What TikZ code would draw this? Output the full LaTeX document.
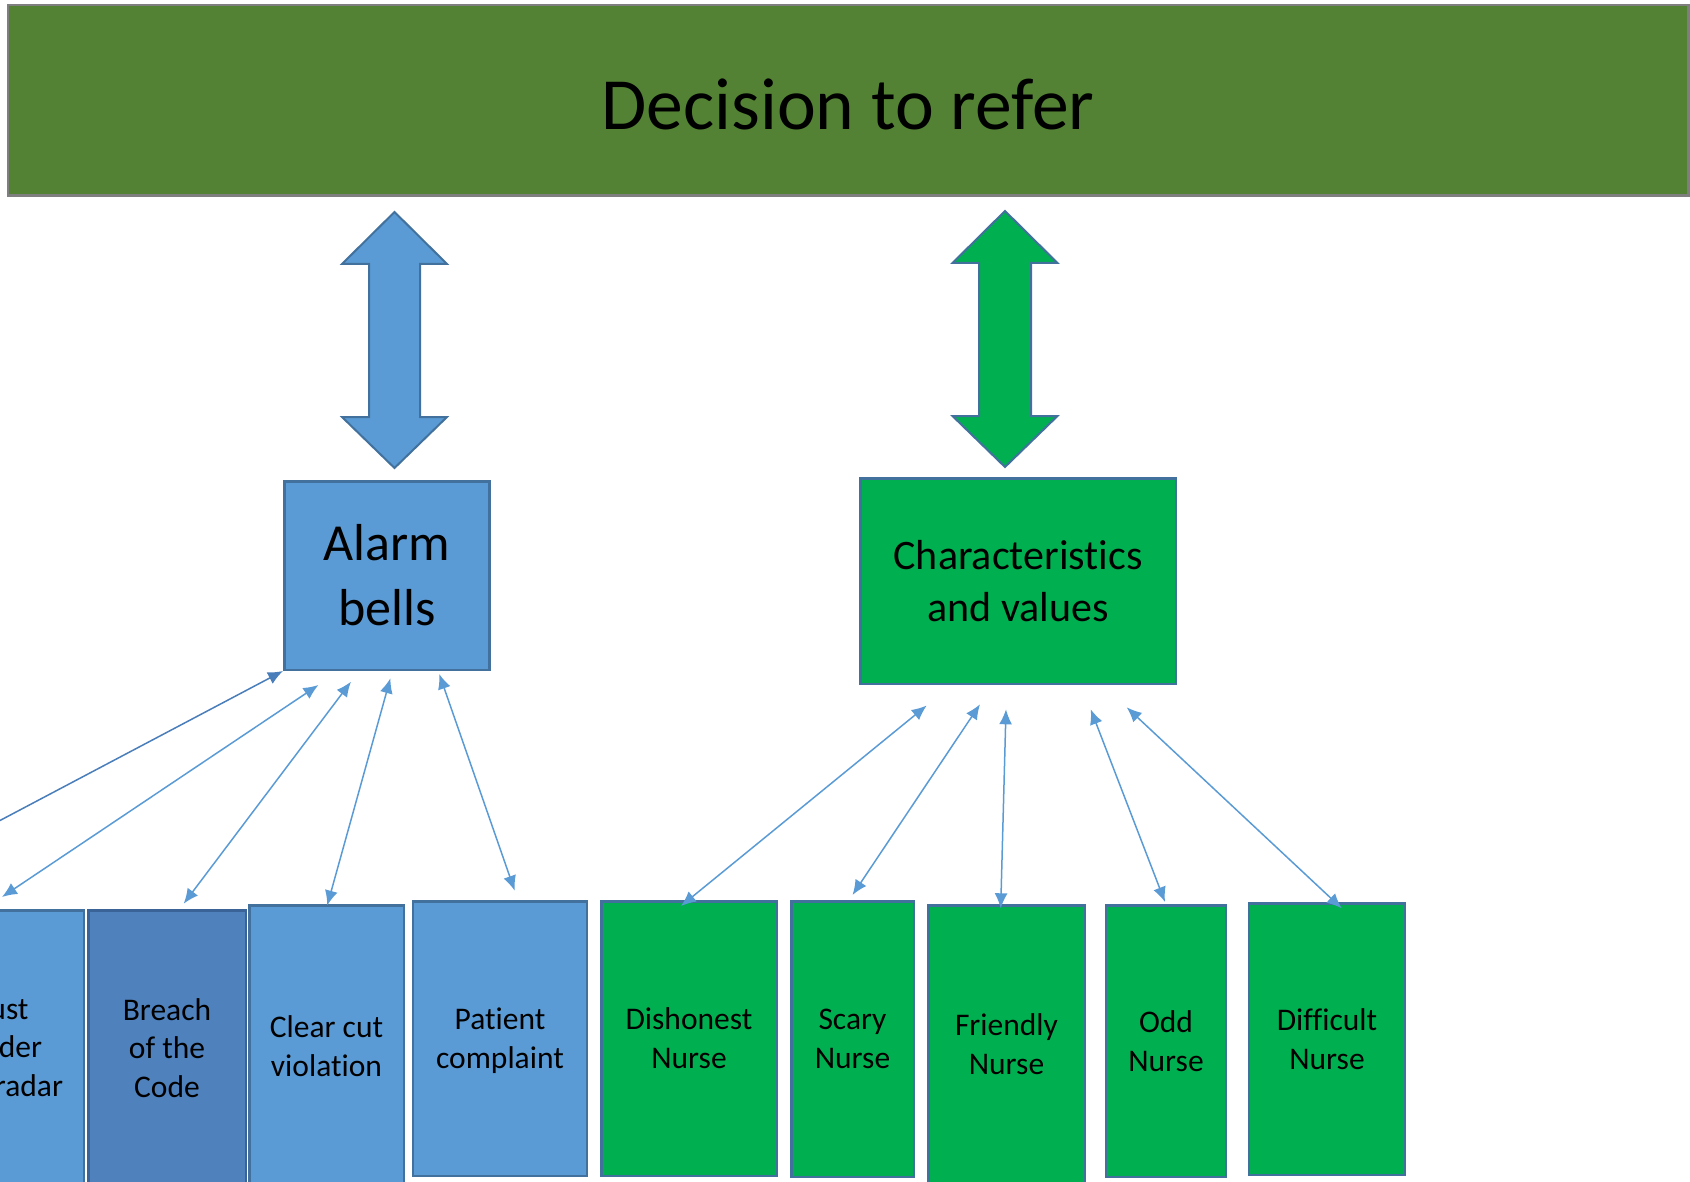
\documentclass[tikz,border=0pt]{standalone}
\usepackage{fontspec}
\setmainfont[Ligatures=NoCommon]{Carlito}
\usetikzlibrary{arrows.meta,calc}

\definecolor{bannerfill}{HTML}{548235}
\definecolor{bannerline}{HTML}{7F7F7F}
\definecolor{skyfill}{HTML}{5B9BD5}
\definecolor{navyfill}{HTML}{4F81BD}
\definecolor{edgeblue}{HTML}{41719C}
\definecolor{edgenavy}{HTML}{3A6497}
\definecolor{leaffill}{HTML}{00B050}
\definecolor{linkblue}{HTML}{5B9BD5}
\definecolor{linkdark}{HTML}{4A7EBB}

\begin{document}
\begin{tikzpicture}[x=1pt,y=-1pt,
  card/.style={draw, line width=2.5pt, inner sep=0pt, align=center, text=black},
  skycard/.style={card, fill=skyfill, draw=edgeblue},
  navycard/.style={card, fill=navyfill, draw=edgenavy},
  leafcard/.style={card, fill=leaffill, draw=edgeblue},
  smalltext/.style={font=\fontsize{31.5}{38.8}\selectfont},
  link/.style={draw=linkblue, line width=1.5pt,
    {Latex[length=15pt,width=13pt]}-{Latex[length=15pt,width=13pt]}},
  bigarrow/.style={line width=2pt, draw=edgeblue, line join=miter},
]
\useasboundingbox (0,0) rectangle (1690,1182);
\clip (0,0) rectangle (1690,1182);

% top banner
\node[card, fill=bannerfill, draw=bannerline, minimum width=1680.5pt, minimum height=190.5pt,
      text height=59pt, text depth=0pt,
      font=\fontsize{73.6}{88}\selectfont] (decision) at (848,100.5) {Decision to refer};

% middle level
\node[skycard, minimum width=205pt, minimum height=188.5pt,
      font=\fontsize{52}{65}\selectfont] (alarm) at (386.75,575.5) {Alarm\\bells};
\node[leafcard, minimum width=315.5pt, minimum height=205.5pt,
      font=\fontsize{42}{52}\selectfont] (values) at (1018,581) {Characteristics\\and values};

% wide double arrows between banner and middle boxes
\draw[bigarrow, fill=skyfill]
  (394.5,212) -- (342,264) -- (369,264) -- (369,417) -- (342,417) -- (394.5,468)
  -- (447,417) -- (420,417) -- (420,264) -- (447,264) -- cycle;
\draw[bigarrow, fill=leaffill]
  (1005,211) -- (952.5,263) -- (979,263) -- (979,416) -- (952.5,416) -- (1005,467)
  -- (1057.5,416) -- (1031,416) -- (1031,263) -- (1057.5,263) -- cycle;

% bottom row: alarm bells
\node[skycard, smalltext, minimum width=159.5pt, minimum height=275.5pt] (just) at (4,1048) {Just\\under\\the radar};
\node[navycard, smalltext, minimum width=157.5pt, minimum height=275.5pt] (breach) at (167,1048) {Breach\\of the\\Code};
\node[skycard, smalltext, minimum width=154.5pt, minimum height=282.5pt] (clear) at (326.5,1046.5) {Clear cut\\violation};
\node[skycard, smalltext, minimum width=174pt, minimum height=274.5pt, text depth=0pt] (patient) at (500,1038.5) {Patient\\complaint};

% bottom row: characteristics
\node[leafcard, smalltext, minimum width=175.5pt, minimum height=274.5pt] (dishonest) at (689,1038.5) {Dishonest\\Nurse};
\node[leafcard, smalltext, minimum width=122.5pt, minimum height=275.5pt] (scary) at (852.5,1039) {Scary\\Nurse};
\node[leafcard, smalltext, minimum width=156.5pt, minimum height=278.5pt] (friendly) at (1006.5,1044.5) {Friendly\\Nurse};
\node[leafcard, smalltext, minimum width=120pt, minimum height=271.5pt] (odd) at (1166,1041) {Odd\\Nurse};
\node[leafcard, smalltext, minimum width=156pt, minimum height=271.5pt] (difficult) at (1327,1039) {Difficult\\Nurse};

% links to alarm bells
\coordinate (farleft) at (-160,905);
\draw[link, draw=linkdark] (farleft) -- (alarm.south west);
\draw[link] ($(just.north)+(-2,-12)$) -- ($(alarm.south)+(-68.3,14)$);
\draw[link] ($(breach.north)+(16.7,-5.3)$) -- ($(alarm.south)+(-35.75,10.7)$);
\draw[link] ($(clear.north)+(0.7,1.5)$) -- ($(alarm.south)+(3.65,7.3)$);
\draw[link] ($(patient.north)+(14.7,-9.3)$) -- ($(alarm.south)+(52.5,3)$);

% links to characteristics and values
\draw[link] ($(dishonest.north)+(-8,6)$) -- ($(values.south)+(-91.3,20.5)$);
\draw[link] ($(scary.north)+(0,-5)$) -- ($(values.south)+(-38,19.3)$);
\draw[link] ($(friendly.north)+(-5.8,4.3)$) -- ($(values.south)+(-12,24.3)$);
\draw[link] ($(odd.north)+(-1,-2)$) -- ($(values.south)+(72.7,24.3)$);
\draw[link] ($(difficult.north)+(14.7,6.3)$) -- ($(values.south)+(108.7,22.3)$);
\end{tikzpicture}
\end{document}
